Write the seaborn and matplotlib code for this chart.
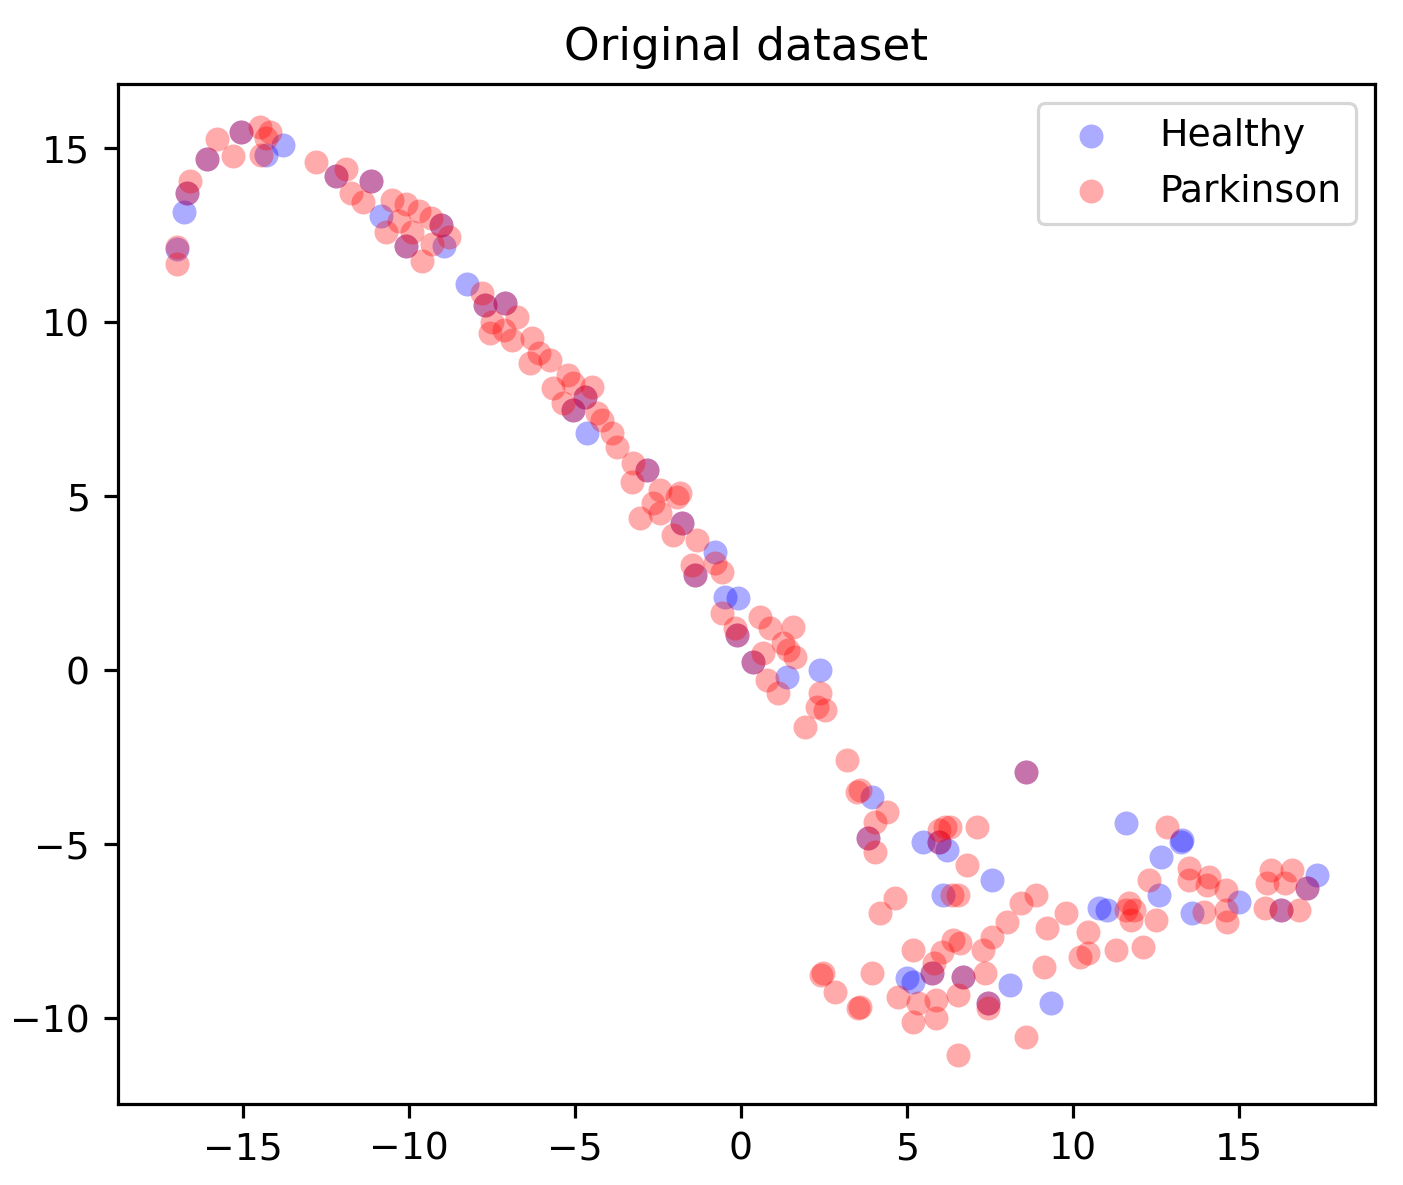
import matplotlib
matplotlib.use("Agg")
import matplotlib.pyplot as plt
import seaborn as sns
import numpy as np

healthy_x = [-16.78, -16.7, -17.0, -16.1, -15.07, -14.3, -13.8, -12.2, -11.15, -10.86, -10.1, -9.05, -8.96,
             -8.24, -7.7, -7.1, -4.7, -5.05, -4.63, -2.83, -1.77, -0.78, -1.38, -0.48, -0.09, -0.12, 0.36,
             1.38, 2.38, 3.94, 3.82, 5.47, 8.6, 5.98, 6.2, 7.55, 6.08, 4.99, 5.17, 5.74, 6.68, 8.09, 7.43,
             9.35, 10.8, 11.6, 13.3, 13.25, 12.66, 11.04, 12.6, 13.6, 15.0, 17.35, 17.05, 16.27]
healthy_y = [13.16, 13.7, 12.1, 14.68, 15.46, 14.8, 15.1, 14.2, 14.05, 13.05, 12.2, 12.8, 12.2,
             11.1, 10.5, 10.55, 7.85, 7.47, 6.81, 5.75, 4.22, 3.39, 2.73, 2.1, 2.07, 1.0, 0.23,
             -0.2, 0.0, -3.65, -4.83, -4.94, -2.93, -4.94, -5.17, -6.03, -6.47, -8.85, -8.97, -8.7, -8.82, -9.05, -9.57,
             -9.57, -6.84, -4.4, -4.89, -4.95, -5.37, -6.9, -6.47, -6.98, -6.67, -5.9, -6.26, -6.9]

park_x = [-16.7, -16.6, -17.0, -17.0, -16.1, -15.8, -15.3, -15.07, -14.5, -14.3, -14.47, -14.2, -12.8, -12.2,
          -11.9, -11.75, -11.4, -11.15, -10.5, -10.7, -10.1, -9.7, -9.35, -10.3, -9.9, -10.1, -9.05, -8.8, -9.6, -9.3,
          -7.8, -7.7, -7.1, -7.5, -7.55, -7.15, -6.74, -6.9, -6.3, -6.1, -6.35, -5.75, -5.65, -5.2, -5.05, -4.48,
          -4.7, -5.05, -5.35, -4.33, -4.18, -3.88, -3.73, -3.25, -2.83, -3.28, -2.44, -1.92, -1.83, -2.65, -3.04,
          -2.44, -1.77, -2.05, -1.32, -1.47, -1.38, -0.57, -0.78, -0.57, -0.12, -0.18, 0.57, 0.87, 1.56, 1.26, 1.62,
          1.41, 0.36, 0.66, 0.78, 1.11, 2.38, 2.29, 2.53, 1.92, 3.19, 3.49, 3.6, 4.39, 4.03, 3.82, 4.03, 5.98,
          8.6, 6.15, 6.3, 7.1, 5.98, 6.8, 6.35, 6.53, 4.63, 4.18, 8.9, 8.45, 8.0, 9.8, 9.23, 10.44, 7.55, 7.28,
          6.38, 6.59, 6.05, 5.17, 5.83, 10.2, 10.44, 9.14, 2.47, 2.4, 3.94, 5.74, 6.68, 7.34, 2.83, 4.72, 5.32,
          5.89, 6.53, 7.43, 3.58, 3.52, 5.17, 5.89, 7.43, 8.6, 6.53,
          12.84, 11.3, 12.1, 11.7, 11.85, 11.76, 12.3, 12.5, 11.6, 13.5, 13.5, 14.1, 14.05, 14.6, 13.95, 14.6,
          14.65, 15.97, 16.6, 15.85, 16.4, 17.05, 15.8, 16.27, 16.8]
park_y = [13.7, 14.05, 12.15, 11.67, 14.68, 15.26, 14.77, 15.46, 15.6, 15.3, 14.8, 15.45, 14.6, 14.2,
          14.4, 13.7, 13.45, 14.05, 13.5, 12.6, 13.4, 13.2, 13.0, 12.9, 12.6, 12.2, 12.8, 12.45, 11.75, 12.25,
          10.83, 10.5, 10.55, 10.0, 9.7, 9.77, 10.14, 9.48, 9.54, 9.1, 8.82, 8.9, 8.1, 8.48, 8.25, 8.13,
          7.85, 7.47, 7.67, 7.38, 7.18, 6.81, 6.41, 5.95, 5.75, 5.4, 5.17, 4.97, 5.1, 4.8, 4.37,
          4.5, 4.22, 3.88, 3.74, 3.02, 2.73, 2.82, 3.07, 1.64, 1.0, 1.2, 1.52, 1.2, 1.24, 0.78, 0.37,
          0.57, 0.23, 0.49, -0.29, -0.66, -0.66, -1.06, -1.15, -1.64, -2.59, -3.5, -3.45, -4.08, -4.37, -4.83, -5.23, -4.6,
          -2.93, -4.51, -4.51, -4.51, -4.94, -5.6, -6.47, -6.47, -6.55, -6.98, -6.47, -6.7, -7.24, -6.98, -7.41, -7.53, -7.67, -8.05,
          -7.76, -7.84, -8.1, -8.05, -8.42, -8.25, -8.13, -8.53, -8.7, -8.75, -8.7, -8.7, -8.82, -8.7, -9.25, -9.4, -9.57,
          -9.48, -9.34, -9.57, -9.68, -9.7, -10.11, -10.0, -9.71, -10.55, -11.06,
          -4.5, -8.05, -7.96, -6.7, -6.9, -7.18, -6.03, -7.18, -6.9, -5.69, -6.03, -5.95, -6.18, -6.32, -6.95, -6.9,
          -7.24, -5.75, -5.75, -6.12, -6.12, -6.26, -6.84, -6.9, -6.9]

labels = ["Healthy", "Parkinson"]
colors = ["blue", "red"]

S = 2.88      # line/marker scale
T = 2.72      # text scale
sns.set_style("ticks")
plt.rcParams["font.family"] = ["DejaVu Sans"]
plt.rcParams["text.color"] = "black"
plt.rcParams["xtick.color"] = "black"
plt.rcParams["ytick.color"] = "black"

fig = plt.figure(figsize=(14.03, 11.85), dpi=100)
ax = fig.add_axes([0.0841, 0.0684, 0.980 - 0.0841, 0.929 - 0.0684])

sns.scatterplot(x=healthy_x, y=healthy_y, color=colors[0], alpha=0.33, s=36 * S * S,
                linewidth=0, label=labels[0], ax=ax)
sns.scatterplot(x=park_x, y=park_y, color=colors[1], alpha=0.33, s=36 * S * S,
                linewidth=0, label=labels[1], ax=ax)

ax.set_xlim(-18.77, 19.1)
ax.set_ylim(-12.47, 16.84)
ax.set_xticks([-15, -10, -5, 0, 5, 10, 15])
ax.set_yticks([-10, -5, 0, 5, 10, 15])
ax.tick_params(labelsize=10 * T, length=3.5 * S, width=0.8 * S, pad=3.5 * S, color="black",
               labelcolor="black")
for sp in ax.spines.values():
    sp.set_visible(True)
    sp.set_linewidth(0.8 * S)
    sp.set_color("black")
ax.set_title("Original dataset", fontsize=12 * T, pad=6 * S, color="black")

leg = ax.legend(loc="upper right", fontsize=10 * T, frameon=True, borderpad=0.4, labelspacing=0.5,
                handletextpad=0.8, borderaxespad=0.5, handlelength=2.0)
leg.get_frame().set_linewidth(0.8 * S)
leg.get_frame().set_edgecolor("#cccccc")
for t in leg.get_texts():
    t.set_color("black")

fig.savefig("out.png", dpi=100, facecolor="white")
